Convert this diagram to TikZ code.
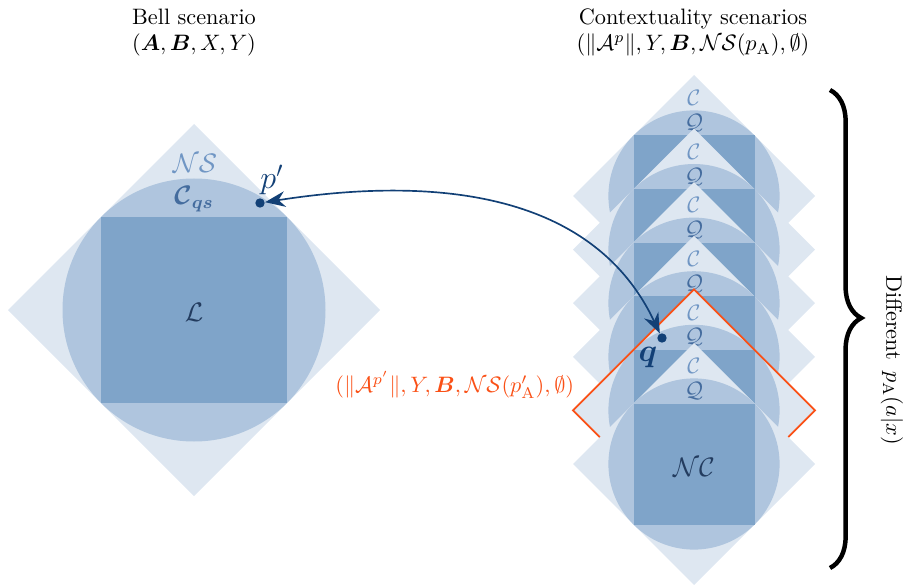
\documentclass[tikz,border=0pt]{standalone}
\usepackage{amsmath,amssymb,bm}
\usetikzlibrary{arrows.meta,decorations.pathreplacing}
\definecolor{lightB}{RGB}{222,231,241}
\definecolor{midB}{RGB}{175,197,222}
\definecolor{darkB}{RGB}{127,164,201}
\definecolor{labC}{RGB}{112,150,196}
\definecolor{labQ}{RGB}{68,108,158}
\definecolor{labL}{RGB}{35,60,95}
\definecolor{navy}{RGB}{18,64,118}
\definecolor{orng}{RGB}{250,80,22}
\tikzset{
  dot/.style={circle,fill=navy,inner sep=0pt,minimum size=4.2pt},
  cl/.style={text=labC},
  ql/.style={text=labQ},
  ll/.style={text=labL},
}
\begin{document}
\begin{tikzpicture}[x=0.4484pt,y=-0.4484pt]
\useasboundingbox (0,0) rectangle (906,585);
% titles
\node[anchor=base] (bt1) at (194,25) {Bell scenario};
\node[anchor=base] (bt2) at (194,51) {$(\bm{A},\bm{B},X,Y)$};
\node[anchor=base] (ct1) at (693,25) {Contextuality scenarios};
\node[anchor=base] (ct2) at (693,51) {$(\|\mathcal{A}^{p}\|,Y,\bm{B},\mathcal{NS}(p_{\mathrm{A}}),\emptyset)$};
% left: Bell
\fill[lightB] (194,124) -- (380,310) -- (194,496) -- (8,310) -- cycle;
\fill[midB] (194,310) circle[radius=131.5];
\fill[darkB] (101,217) rectangle (287,403);
\node[cl,font=\large] (NSl) at (195,163) {$\mathcal{NS}$};
\node[ql,font=\large] (Cqs) at (194,199) {$\bm{\mathcal{C}_{qs}}$};
\node[ll,font=\large] (L) at (194,312) {$\mathcal{L}$};
% right: contextuality stack
\foreach \k in {0,...,5}{
  \pgfmathsetmacro\cy{196+53.6*\k}
  \fill[lightB] (694,\cy-121) -- (815,\cy) -- (694,\cy+121) -- (573,\cy) -- cycle;
  \fill[midB] (694,\cy) circle[radius=85.6];
  \fill[darkB] (633.5,\cy-60.5) rectangle (754.5,\cy+60.5);
  \node[cl] (C\k) at (694,\cy-98) {$\mathcal{C}$};
  \node[ql] (Q\k) at (694,\cy-73) {$\mathcal{Q}$};
  \ifnum\k=4
    \draw[orng,thick,line join=miter] (694,\cy-121) -- (815,\cy) -- (694,\cy+121) -- (573,\cy) -- cycle;
  \fi
}
\node[ll,font=\large] (NC) at (694,467) {$\mathcal{NC}$};
% orange label
\node[text=orng,anchor=east] (olab) at (582,385) {$(\|\mathcal{A}^{p'}\|,Y,\bm{B},\mathcal{NS}(p'_{\mathrm{A}}),\emptyset)$};
% points and arrow
\node[dot] (p) at (260,203) {};
\node[dot] (q) at (662,338) {};
\node[text=navy,font=\Large] (pl) at (272,180) {$p'$};
\node[text=navy,font=\Large] (ql) at (648,357) {$\bm{q}$};
\draw[navy,line width=0.75pt,{Stealth[length=9pt,width=7pt]}-{Stealth[length=9pt,width=7pt]}]
  (p) .. controls (420,178) and (590,185) .. (q);
% brace
\coordinate (br1) at (830,90);
\coordinate (br2) at (830,568);
\draw[decorate,decoration={brace,amplitude=14pt,aspect=0.477},line width=2pt] (br1) -- (br2);
\node[rotate=-90] (diff) at (892,360) {Different\, $p_{\mathrm{A}}(a|x)$};
\end{tikzpicture}
\end{document}
